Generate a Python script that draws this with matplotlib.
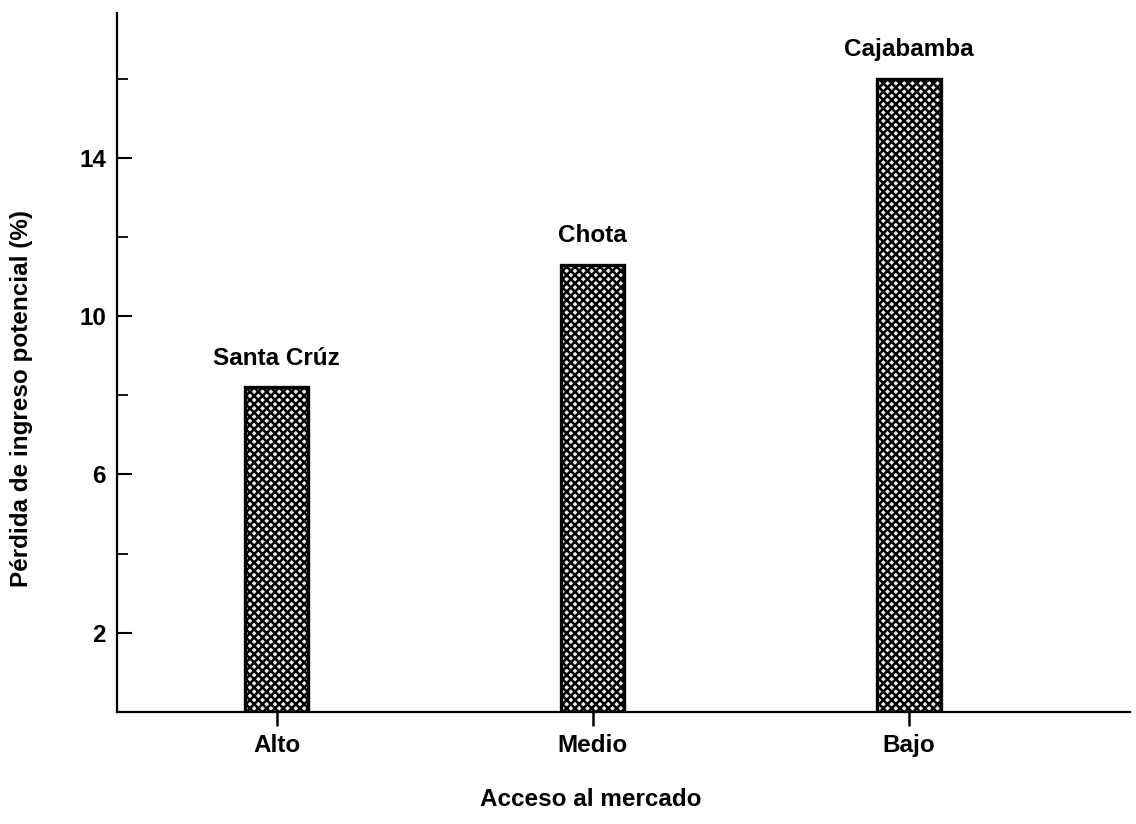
import matplotlib
matplotlib.use("Agg")
import matplotlib.pyplot as plt

# data
categories = ["Alto", "Medio", "Bajo"]
places = ["Santa Crúz", "Chota", "Cajabamba"]
loss_pct = [8.2, 11.3, 16.0]
major_ticks = [2, 6, 10, 14]
minor_ticks = [4, 8, 12, 16]

plt.rcParams["font.family"] = ["Liberation Sans", "DejaVu Sans"]
plt.rcParams["font.weight"] = "bold"
plt.rcParams["axes.labelweight"] = "bold"
plt.rcParams["hatch.linewidth"] = 1.8
plt.rcParams["hatch.color"] = "#1a1a1a"

FS = 17.5

fig = plt.figure(figsize=(11.36, 8.24), dpi=100)
ax = fig.add_axes([0.103, 0.136, 0.892, 0.848])

x = list(range(len(categories)))
ax.bar(x, loss_pct, width=0.2, facecolor="#eeeeee", edgecolor="black",
       linewidth=2.4, hatch="xxxx", zorder=2)

for xi, v, name in zip(x, loss_pct, places):
    ax.annotate(name, (xi, v), xytext=(0, 16), textcoords="offset points",
                ha="center", va="baseline", fontsize=FS)

ax.set_xlim(-0.505, 2.70)
ax.set_ylim(0, 17.65)

ax.set_xticks(x)
ax.set_xticklabels(categories, fontsize=FS)
ax.set_yticks(major_ticks)
ax.set_yticklabels([str(t) for t in major_ticks], fontsize=FS)
ax.set_yticks(minor_ticks, minor=True)

ax.tick_params(axis="y", which="major", direction="in", length=11, width=1.5, pad=8)
ax.tick_params(axis="y", which="minor", direction="in", length=8, width=1.3)
ax.tick_params(axis="x", direction="out", length=10, width=1.8, pad=6)

for side in ["top", "right"]:
    ax.spines[side].set_visible(False)
for side in ["left", "bottom"]:
    ax.spines[side].set_linewidth(1.6)

ax.set_xlabel("Acceso al mercado", fontsize=FS, va="center")
ax.xaxis.set_label_coords(0.468, -0.126)
ax.set_ylabel("Pérdida de ingreso potencial (%)", fontsize=FS, va="center")
ax.yaxis.set_label_coords(-0.094, 0.449)

fig.savefig("out.png", dpi=100)
